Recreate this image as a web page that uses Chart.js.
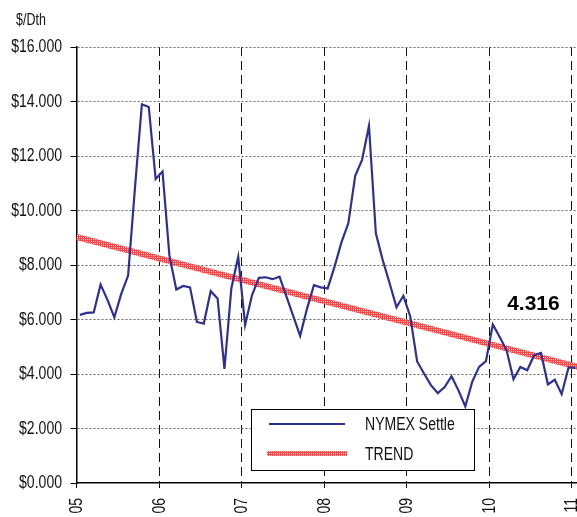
<!DOCTYPE html>
<html>
<head>
<meta charset="utf-8">
<title>NYMEX Settle</title>
<script src="https://cdn.jsdelivr.net/npm/chart.js@4.4.1/dist/chart.umd.min.js"></script>
<style>
  html, body { margin: 0; padding: 0; background: #fff; }
  #wrap { position: relative; width: 577px; height: 517px; }
</style>
</head>
<body>
<div id="wrap"><canvas id="gasChart" width="577" height="517"></canvas></div>
<script>
// ========================
// Chart data (Jan 05 .. Jan 11, monthly)
const yearLabels = ['05', '06', '07', '08', '09', '10', '11'];
const settleValues = [
    6.17, 6.24, 6.26, 7.28, 6.72, 6.08, 6.94, 7.61, 10.85, 13.90, 13.80, 11.16,
    11.43, 8.35, 7.10, 7.23, 7.18, 5.91, 5.85, 7.04, 6.77, 4.19, 7.14, 8.30,
    5.80, 6.89, 7.53, 7.55, 7.48, 7.57, 6.85, 6.12, 5.40, 6.40, 7.26, 7.18,
    7.14, 7.94, 8.83, 9.53, 11.27, 11.86, 13.11, 9.16, 8.18, 7.33, 6.45, 6.87,
    6.11, 4.46, 4.02, 3.59, 3.30, 3.52, 3.92, 3.40, 2.81, 3.71, 4.26, 4.47,
    5.82, 5.36, 4.87, 3.81, 4.26, 4.14, 4.69, 4.77, 3.62, 3.79, 3.26, 4.24,
    4.22
];
const trendMonths = [0, 72, 73];
const trendValues = [9.03, 4.316, 4.25];
const trendLabel = '4.316';
const yTicks = [0, 2, 4, 6, 8, 10, 12, 14, 16];

const FONT = "'Liberation Sans', Arial, sans-serif";
const NARROW = 0.78; // reference uses a condensed sans

// draw condensed text (optionally rotated -90deg)
function narrowText(ctx, text, x, y, size, align, baseline, rotate) {
    ctx.save();
    ctx.translate(x, y);
    if (rotate) ctx.rotate(-Math.PI / 2);
    ctx.scale(NARROW, 1);
    ctx.font = size + 'px ' + FONT;
    ctx.textAlign = align;
    ctx.textBaseline = baseline;
    ctx.fillText(text, 0, 0);
    ctx.restore();
}

// Red/white hatched stroke for the trend line
function makeTrendPattern() {
    const c = document.createElement('canvas');
    c.width = 4; c.height = 4;
    const g = c.getContext('2d');
    g.fillStyle = 'rgb(255,70,70)';
    g.fillRect(0, 0, 4, 4);
    g.fillStyle = 'rgba(255,205,205,1)';
    g.fillRect(1, 1, 1, 1);
    g.fillRect(3, 3, 1, 1);
    g.fillRect(3, 1, 1, 1);
    g.fillRect(1, 3, 1, 1);
    return g.createPattern(c, 'repeat');
}

// tick labels in the condensed face, placed from the scales
const tickTextPlugin = {
    id: 'tickText',
    afterDraw(chart) {
        const ctx = chart.ctx;
        const xs = chart.scales.x, ys = chart.scales.y;
        ctx.save();
        ctx.fillStyle = '#111';
        ys.ticks.forEach(t => {
            narrowText(ctx, '$' + t.value.toFixed(3), xs.left - 14.5, ys.getPixelForValue(t.value) + 0.5, 18, 'right', 'middle', false);
        });
        xs.ticks.forEach((t, i) => {
            narrowText(ctx, yearLabels[i], xs.getPixelForValue(t.value) + 0.5, ys.bottom + 15, 18, 'right', 'middle', true);
        });
        ctx.restore();
    }
};

// Legend box + end label drawn inside the plot
const overlayPlugin = {
    id: 'overlay',
    afterDraw(chart) {
        const ctx = chart.ctx;
        const xs = chart.scales.x, ys = chart.scales.y;
        ctx.save();

        // trend end label
        ctx.font = "bold 21px 'Liberation Sans', Arial, sans-serif";
        ctx.fillStyle = '#000';
        ctx.textAlign = 'center';
        ctx.textBaseline = 'middle';
        ctx.fillText(trendLabel, xs.getPixelForValue(66.4), ys.getPixelForValue(6.55));

        // legend
        const bx = 251, by = 409, bw = 223, bh = 61;
        ctx.fillStyle = '#fff';
        ctx.fillRect(bx, by, bw, bh);
        ctx.strokeStyle = '#000';
        ctx.lineWidth = 1;
        ctx.strokeRect(bx + 0.5, by + 0.5, bw, bh);

        ctx.strokeStyle = chart.data.datasets[0].borderColor;
        ctx.lineWidth = 2.2;
        ctx.beginPath();
        ctx.moveTo(269, 424);
        ctx.lineTo(345, 424);
        ctx.stroke();

        ctx.strokeStyle = chart.data.datasets[1].borderColor;
        ctx.lineWidth = 5;
        ctx.beginPath();
        ctx.moveTo(267, 453.5);
        ctx.lineTo(347, 453.5);
        ctx.stroke();

        ctx.fillStyle = '#111';
        narrowText(ctx, 'NYMEX Settle', 365, 425, 18, 'left', 'middle', false);
        narrowText(ctx, 'TREND', 365, 455, 18, 'left', 'middle', false);

        // unit label
        narrowText(ctx, '$/Dth', 16, 25, 16, 'left', 'alphabetic', false);
        ctx.restore();
    }
};

document.addEventListener('DOMContentLoaded', function () {
    const ctx = document.getElementById('gasChart').getContext('2d');

    const settlePoints = settleValues.map((v, i) => ({ x: i + 0.5, y: v }));
    const trendPoints = trendValues.map((v, i) => ({ x: trendMonths[i], y: v }));

    new Chart(ctx, {
        type: 'line',
        data: {
            datasets: [
                {
                    label: 'NYMEX Settle',
                    data: settlePoints,
                    borderColor: '#2e3192',
                    borderWidth: 2.2,
                    pointRadius: 0,
                    tension: 0,
                    fill: false
                },
                {
                    label: 'TREND',
                    data: trendPoints,
                    borderColor: makeTrendPattern(),
                    borderWidth: 6,
                    pointRadius: 0,
                    tension: 0,
                    fill: false
                }
            ]
        },
        options: {
            responsive: false,
            animation: false,
            layout: { padding: { top: 47, right: 0, left: 0, bottom: 0 } },
            plugins: {
                legend: { display: false },
                tooltip: { enabled: false }
            },
            scales: {
                x: {
                    type: 'linear',
                    min: 0,
                    max: 72.73,
                    afterFit: s => { s.height = 34; },
                    afterBuildTicks: s => { s.ticks = yearLabels.map((_, i) => ({ value: i * 12 })); },
                    ticks: { display: false },
                    grid: {
                        color: c => (c.tick && c.tick.value === 0 ? 'rgba(0,0,0,0)' : '#111'),
                        lineWidth: 1,
                        tickLength: 5,
                        tickColor: '#000',
                        tickBorderDash: []
                    },
                    border: { display: true, color: '#000', width: 1.5, dash: [9, 5] }
                },
                y: {
                    min: 0,
                    max: 16,
                    afterFit: s => { s.width = 76.5; },
                    afterBuildTicks: s => { s.ticks = yTicks.map(v => ({ value: v })); },
                    ticks: { display: false },
                    grid: {
                        color: c => (c.tick && c.tick.value === 0 ? 'rgba(0,0,0,0)' : '#666'),
                        lineWidth: 1,
                        tickLength: 6,
                        tickColor: '#000',
                        tickBorderDash: []
                    },
                    border: { display: true, color: '#000', width: 1.5, dash: [2, 2] }
                }
            }
        },
        plugins: [tickTextPlugin, overlayPlugin]
    });
});
</script>
</body>
</html>
